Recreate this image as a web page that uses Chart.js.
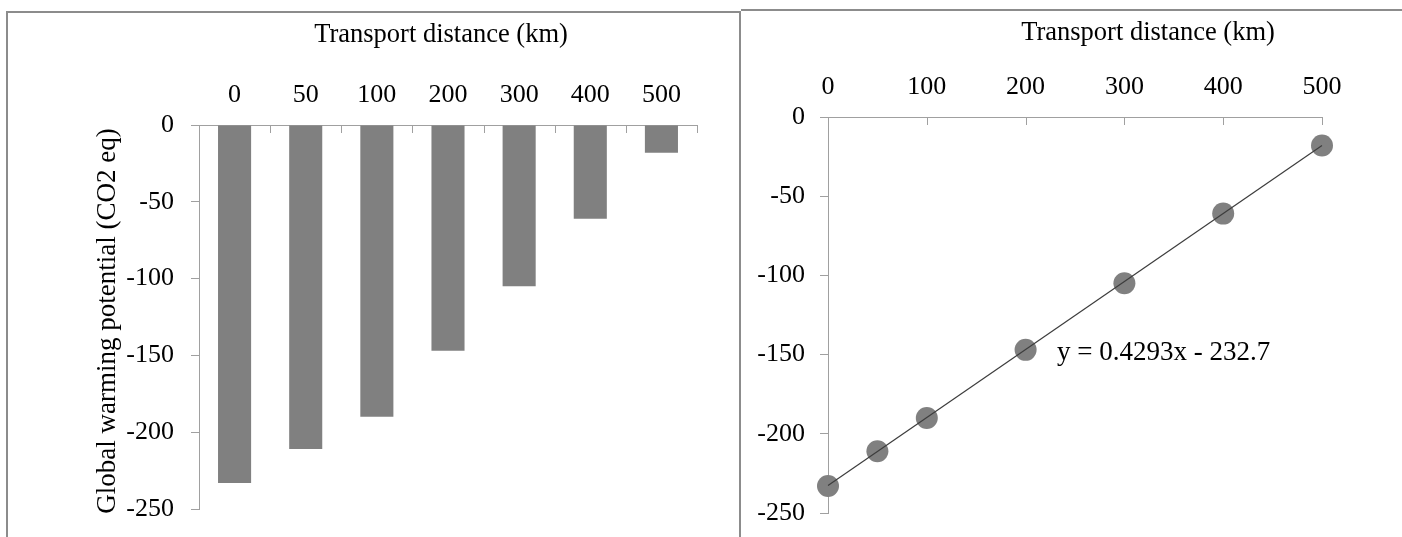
<!DOCTYPE html>
<html>
<head>
<meta charset="utf-8">
<script src="https://cdn.jsdelivr.net/npm/chart.js@4.4.1/dist/chart.umd.min.js"></script>
<style>
  html, body { margin: 0; padding: 0; background: #fff; }
  body { width: 1402px; height: 537px; position: relative; overflow: hidden; }
  .panel { position: absolute; border: 0 solid #8c8c8c; }
  #panelLeft { left: 6px; top: 11px; width: 731px; height: 600px; border-width: 2px 2px 0 2px; }
  #panelRight { left: 741px; top: 9px; width: 700px; height: 600px; border-top-width: 2px; }
  canvas { position: absolute; top: 0; }
  #gwpBar { left: 0; }
  #gwpScatter { left: 740px; }
</style>
</head>
<body>
<div class="panel" id="panelLeft"></div>
<div class="panel" id="panelRight"></div>
<canvas id="gwpBar" width="740" height="537"></canvas>
<canvas id="gwpScatter" width="662" height="537"></canvas>
<script>
// Transport distance (km) and the resulting global warming potential (CO2 eq)
const distanceKm = [0, 50, 100, 200, 300, 400, 500];
const distanceLabels = ['0', '50', '100', '200', '300', '400', '500'];
const gwpValues = [-233, -211, -190, -147, -105, -61, -18];

// Linear trend reported on the scatter panel
const trendSlope = 0.4293;
const trendIntercept = -232.7;

// Axis ranges
const gwpMin = -250, gwpMax = 0, gwpStep = 50;
const distMin = 0, distMax = 500, distStep = 100;

const FONT_FAMILY = "'Liberation Serif', 'Times New Roman', serif";
const TEXT_SIZE = 26;
const AXIS_GREY = '#a0a0a0';
const MARK_GREY = '#808080';

Chart.defaults.font.family = FONT_FAMILY;
Chart.defaults.font.size = TEXT_SIZE;
Chart.defaults.color = '#000';

// Short tick marks hanging down from a top-positioned x axis
const hangingTicks = {
  id: 'hangingTicks',
  afterDraw(chart, args, opts) {
    const s = chart.scales.x;
    const ctx = chart.ctx;
    let xs;
    if (opts.boundaries) {
      xs = [];
      for (let i = 0; i <= s.ticks.length; i++) xs.push(s.getPixelForValue(i - 0.5));
    } else {
      xs = s.ticks.map(t => s.getPixelForValue(t.value));
    }
    ctx.save();
    ctx.strokeStyle = opts.color;
    ctx.lineWidth = 1;
    xs.forEach(x => {
      const px = Math.round(x) + 0.5;
      ctx.beginPath();
      ctx.moveTo(px, s.bottom);
      ctx.lineTo(px, s.bottom + opts.length);
      ctx.stroke();
    });
    ctx.restore();
  }
};

// Free-standing text: axis captions and the trend equation
const captions = {
  id: 'captions',
  afterDraw(chart, args, opts) {
    const ctx = chart.ctx;
    (opts.items || []).forEach(it => {
      let x = it.x, y = it.y;
      if (it.units === 'data') {
        x = chart.scales.x.getPixelForValue(it.x);
        y = chart.scales.y.getPixelForValue(it.y);
      }
      ctx.save();
      ctx.font = (it.size || TEXT_SIZE) + 'px ' + FONT_FAMILY;
      ctx.fillStyle = '#000';
      ctx.textAlign = it.align || 'center';
      ctx.textBaseline = 'alphabetic';
      ctx.translate(x, y);
      if (it.rotate) ctx.rotate(it.rotate);
      ctx.fillText(it.text, 0, 0);
      ctx.restore();
    });
  }
};

// Fixed-size y axis that does not reserve extra room below the plot
const fixedYAxis = width => s => {
  s.width = width;
  s.paddingTop = 0;
  s.paddingBottom = 0;
};

const commonOptions = {
  responsive: false,
  animation: false,
  devicePixelRatio: 1,
  events: []
};

// Bar panel
new Chart(document.getElementById('gwpBar'), {
  type: 'bar',
  data: {
    labels: distanceLabels,
    datasets: [{
      data: gwpValues,
      backgroundColor: MARK_GREY,
      borderWidth: 0,
      categoryPercentage: 1,
      barPercentage: 0.465
    }]
  },
  options: {
    ...commonOptions,
    layout: { padding: { left: 0, top: 0, right: 43, bottom: 28 } },
    plugins: {
      legend: { display: false },
      tooltip: { enabled: false },
      hangingTicks: { boundaries: true, length: 8, color: AXIS_GREY },
      captions: {
        items: [
          { text: 'Transport distance (km)', x: 441, y: 42, size: 26.5 },
          { text: 'Global warming potential (CO2 eq)', x: 115, y: 321, size: 27, rotate: -Math.PI / 2 }
        ]
      }
    },
    scales: {
      x: {
        type: 'category',
        position: 'top',
        offset: true,
        grid: { offset: true, drawOnChartArea: false, drawTicks: false },
        border: { color: AXIS_GREY },
        ticks: { padding: 14 },
        afterFit: s => { s.height = 125; }
      },
      y: {
        min: gwpMin,
        max: gwpMax,
        ticks: { stepSize: gwpStep, padding: 17 },
        grid: { drawOnChartArea: false, drawTicks: true, tickLength: 8, color: AXIS_GREY },
        border: { color: AXIS_GREY },
        afterFit: fixedYAxis(199)
      }
    }
  },
  plugins: [hangingTicks, captions]
});

// Scatter panel with the fitted line
const trendPoints = [
  { x: distMin, y: trendSlope * distMin + trendIntercept },
  { x: distMax, y: trendSlope * distMax + trendIntercept }
];
const gwpPoints = distanceKm.map((x, i) => ({ x: x, y: gwpValues[i] }));
const trendLabel = 'y = ' + trendSlope + 'x - ' + Math.abs(trendIntercept);

new Chart(document.getElementById('gwpScatter'), {
  type: 'scatter',
  data: {
    datasets: [
      {
        type: 'line',
        data: trendPoints,
        borderColor: '#3c3c3c',
        borderWidth: 1.2,
        pointRadius: 0,
        order: 0,
        clip: false
      },
      {
        data: gwpPoints,
        backgroundColor: MARK_GREY,
        borderWidth: 0,
        pointRadius: 11,
        order: 1,
        clip: false
      }
    ]
  },
  options: {
    ...commonOptions,
    layout: { padding: { left: 0, top: 0, right: 80, bottom: 24 } },
    plugins: {
      legend: { display: false },
      tooltip: { enabled: false },
      hangingTicks: { boundaries: false, length: 8, color: AXIS_GREY },
      captions: {
        items: [
          { text: 'Transport distance (km)', x: 408, y: 40, size: 26.5 },
          { text: trendLabel, x: 317, y: 360, size: 27, align: 'left' }
        ]
      }
    },
    scales: {
      x: {
        type: 'linear',
        position: 'top',
        min: distMin,
        max: distMax,
        ticks: { stepSize: distStep, padding: 14 },
        grid: { drawOnChartArea: false, drawTicks: false },
        border: { color: AXIS_GREY },
        afterFit: s => { s.height = 117; }
      },
      y: {
        min: gwpMin,
        max: gwpMax,
        ticks: { stepSize: gwpStep, padding: 15 },
        grid: { drawOnChartArea: false, drawTicks: true, tickLength: 8, color: AXIS_GREY },
        border: { color: AXIS_GREY },
        afterFit: fixedYAxis(88)
      }
    }
  },
  plugins: [hangingTicks, captions]
});
</script>
</body>
</html>
